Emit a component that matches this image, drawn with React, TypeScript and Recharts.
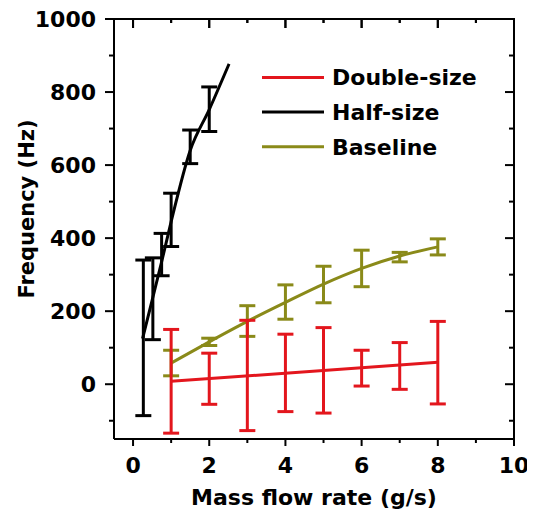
import React from 'react';
import { ComposedChart, Line, Scatter, ErrorBar, XAxis, YAxis, Legend, Label, ReferenceLine } from 'recharts';

const FONT = '"DejaVu Sans", "Liberation Sans", Arial, sans-serif';
const RED = '#e3161d';
const BLACK = '#000000';
const OLIVE = '#8a8a19';

// ticks
const xTicks = [0, 2, 4, 6, 8, 10];
const xMinorTicks = [1, 3, 5, 7, 9];
const yTicks = [0, 200, 400, 600, 800, 1000];
const yMinorTicks = [-100, 100, 300, 500, 700, 900];

// Double-size: means with symmetric error, plus the fitted line
const doubleX = [1, 2, 3, 4, 5, 6, 7, 8];
const doubleMean = [8, 15, 24, 31, 38, 44, 50, 59];
const doubleErr = [142, 70, 151, 106, 117, 49, 64, 113];
const doubleFitX = [1, 8];
const doubleFitY = [8, 60];

// Half-size
const halfX = [0.27, 0.52, 0.75, 1.0, 1.5, 2.0];
const halfMean = [127, 234, 355, 450, 650, 753];
const halfErr = [213, 112, 58, 73, 46, 61];
const halfFitX = [0.25, 0.52, 0.75, 1.0, 1.5, 2.0, 2.52];
const halfFitY = [125, 238, 335, 445, 640, 752, 877];

// Baseline
const baseX = [1, 2, 3, 4, 5, 6, 7, 8];
const baseMean = [58, 116, 173, 225, 273, 317, 348, 376];
const baseErr = [35, 10, 42, 47, 50, 50, 13, 22];
const baseFitX = [1, 2, 3, 4, 5, 6, 7, 8];
const baseFitY = [58, 116, 172, 224, 274, 317, 351, 376];

const legendItems = [
  { name: 'Double-size', color: RED },
  { name: 'Half-size', color: BLACK },
  { name: 'Baseline', color: OLIVE },
];

const pts = (xs: number[], ys: number[], errs?: number[]) =>
  xs.map((x, i) => ({ x, y: ys[i], err: errs ? errs[i] : 0 }));

const W = 527;
const H = 505;
const MARGIN = { top: 11, right: 21, left: 0, bottom: 0 };
const Y_AXIS_W = 106;
const X_AXIS_H = 74;
const PLOT = {
  left: MARGIN.left + Y_AXIS_W,
  right: W - MARGIN.right,
  top: MARGIN.top,
  bottom: H - X_AXIS_H,
};
const LEGEND_POS = { left: 252, top: 52 };

const axisStyle = { stroke: '#000', strokeWidth: 2 };
const X_DOMAIN: [number, number] = [-0.5, 10];
const Y_DOMAIN: [number, number] = [-150, 1000];
const allXTicks = [...xTicks, ...xMinorTicks].sort((a, b) => a - b);
const allYTicks = [...yTicks, ...yMinorTicks].sort((a, b) => a - b);

// position of a tick along the top frame edge
const frameX = (v: number) =>
  PLOT.left + ((v - X_DOMAIN[0]) / (X_DOMAIN[1] - X_DOMAIN[0])) * (PLOT.right - PLOT.left);

// bottom ticks point outward, top ticks inward; label only on major ticks
const XTick = (props: any) => {
  const { x, payload } = props;
  const major = xTicks.includes(payload.value);
  return (
    <g>
      <line x1={x} x2={x} y1={PLOT.bottom} y2={PLOT.bottom + (major ? 7 : 4)} {...axisStyle} />
      <line x1={x} x2={x} y1={PLOT.top} y2={PLOT.top + (major ? 9 : 4)} {...axisStyle} />
      {major && (
        <text x={x} y={PLOT.bottom + 34} textAnchor="middle" fontFamily={FONT} fontSize={22} fontWeight={700} fill="#000">
          {payload.value}
        </text>
      )}
    </g>
  );
};

// left ticks point outward, right ticks inward
const YTick = (props: any) => {
  const { y, payload } = props;
  const major = yTicks.includes(payload.value);
  const len = major ? 9 : 5;
  return (
    <g>
      <line x1={PLOT.left - len} x2={PLOT.left} y1={y} y2={y} {...axisStyle} />
      <line x1={PLOT.right - len} x2={PLOT.right} y1={y} y2={y} {...axisStyle} />
      {major && (
        <text x={PLOT.left - 18} y={y} dy="0.36em" textAnchor="end" fontFamily={FONT} fontSize={22} fontWeight={700} fill="#000">
          {payload.value}
        </text>
      )}
    </g>
  );
};

const XTitle = (props: any) => {
  const { viewBox } = props;
  return (
    <text
      x={viewBox.x + viewBox.width / 2}
      y={PLOT.bottom + 66}
      textAnchor="middle"
      fontFamily={FONT}
      fontSize={22}
      fontWeight={700}
      fill="#000"
    >
      Mass flow rate (g/s)
    </text>
  );
};

const YTitle = () => {
  const x = 26;
  const y = PLOT.top + 190;
  return (
    <text
      x={x}
      y={y}
      transform={`rotate(-90, ${x}, ${y})`}
      textAnchor="middle"
      fontFamily={FONT}
      fontSize={21}
      fontWeight={700}
      fill="#000"
    >
      Frequency (Hz)
    </text>
  );
};

// legend overlay in chart coordinates; it also carries the top edge of the frame
const renderLegend = () => (
  <svg
    width={W}
    height={H}
    style={{ position: 'absolute', left: -LEGEND_POS.left, top: -LEGEND_POS.top, overflow: 'visible', pointerEvents: 'none' }}
  >
    <line x1={PLOT.left - 1} x2={PLOT.right + 1} y1={PLOT.top} y2={PLOT.top} {...axisStyle} />
    {allXTicks.map((v) => (
      <line
        key={v}
        x1={frameX(v)}
        x2={frameX(v)}
        y1={PLOT.top}
        y2={PLOT.top + (xTicks.includes(v) ? 9 : 4)}
        {...axisStyle}
      />
    ))}
    {legendItems.map((s, i) => {
      const y = LEGEND_POS.top + 17.5 + i * 34.6;
      const x = LEGEND_POS.left + 2;
      return (
        <g key={s.name}>
          <line x1={x} x2={x + 62} y1={y} y2={y} stroke={s.color} strokeWidth={3} />
          <text x={x + 70} y={y + 7.8} fontFamily={FONT} fontSize={22} fontWeight={700} fill="#000">
            {s.name}
          </text>
        </g>
      );
    })}
  </svg>
);

const NoDot = () => <g />;

export default function App() {
  return (
    <ComposedChart width={W} height={H} margin={MARGIN} style={{ overflow: 'visible' }}>
      <XAxis
        type="number"
        dataKey="x"
        domain={X_DOMAIN}
        ticks={allXTicks}
        interval={0}
        allowDataOverflow
        height={X_AXIS_H}
        axisLine={axisStyle}
        tickLine={false}
        tick={XTick}
      >
        <Label content={XTitle} />
      </XAxis>
      <YAxis
        type="number"
        dataKey="y"
        domain={Y_DOMAIN}
        ticks={allYTicks}
        interval={0}
        allowDataOverflow
        width={Y_AXIS_W}
        axisLine={axisStyle}
        tickLine={false}
        tick={YTick}
      >
        <Label content={YTitle} />
      </YAxis>

      {/* closing edges of the frame */}
      <ReferenceLine y={Y_DOMAIN[1]} stroke="#000" strokeWidth={2} ifOverflow="visible" />
      <ReferenceLine x={X_DOMAIN[1]} stroke="#000" strokeWidth={2} ifOverflow="visible" />

      <Legend
        layout="vertical"
        align="center"
        verticalAlign="middle"
        content={renderLegend}
        wrapperStyle={{
          position: 'absolute',
          left: LEGEND_POS.left,
          top: LEGEND_POS.top,
          width: 240,
          height: 110,
          overflow: 'visible',
          pointerEvents: 'none',
        }}
      />

      <Line
        data={pts(baseFitX, baseFitY)}
        dataKey="y"
        type="monotone"
        stroke={OLIVE}
        strokeWidth={3}
        dot={false}
        activeDot={false}
        isAnimationActive={false}
      />
      <Scatter data={pts(baseX, baseMean, baseErr)} dataKey="y" shape={NoDot} isAnimationActive={false}>
        <ErrorBar dataKey="err" direction="y" width={8} stroke={OLIVE} strokeWidth={3} />
      </Scatter>

      <Line
        data={pts(halfFitX, halfFitY)}
        dataKey="y"
        type="monotone"
        stroke={BLACK}
        strokeWidth={3}
        dot={false}
        activeDot={false}
        isAnimationActive={false}
      />
      <Scatter data={pts(halfX, halfMean, halfErr)} dataKey="y" shape={NoDot} isAnimationActive={false}>
        <ErrorBar dataKey="err" direction="y" width={8} stroke={BLACK} strokeWidth={3} />
      </Scatter>

      <Line
        data={pts(doubleFitX, doubleFitY)}
        dataKey="y"
        type="linear"
        stroke={RED}
        strokeWidth={3}
        dot={false}
        activeDot={false}
        isAnimationActive={false}
      />
      <Scatter data={pts(doubleX, doubleMean, doubleErr)} dataKey="y" shape={NoDot} isAnimationActive={false}>
        <ErrorBar dataKey="err" direction="y" width={8} stroke={RED} strokeWidth={3} />
      </Scatter>
    </ComposedChart>
  );
}
